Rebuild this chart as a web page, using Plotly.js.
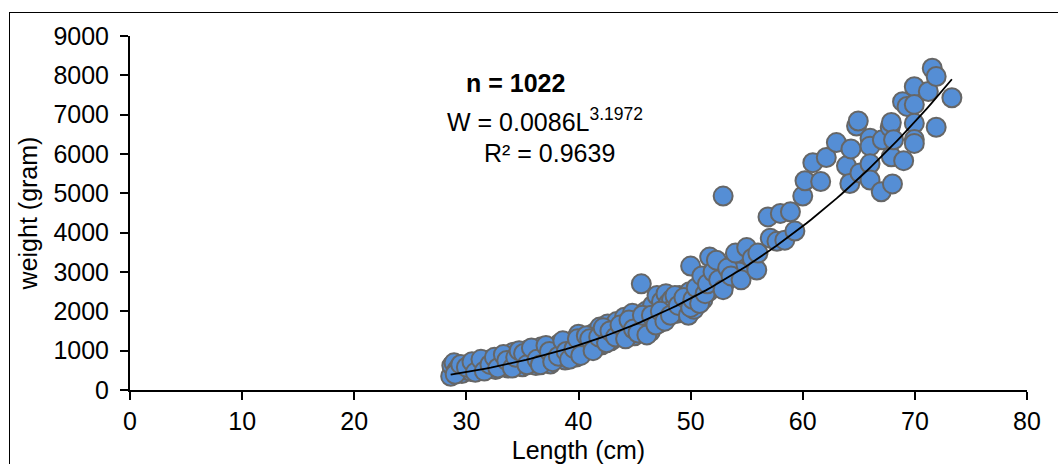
<!DOCTYPE html>
<html>
<head>
<meta charset="utf-8">
<script src="https://cdn.plot.ly/plotly-3.0.1.min.js"></script>
<style>
  html, body { margin: 0; padding: 0; background: #fff; }
  #wrap { position: relative; width: 1058px; height: 464px; overflow: hidden; }
  #chart { width: 1058px; height: 464px; }
  #frame { position: absolute; left: 9px; top: 12px; width: 2000px; height: 1000px;
           border-left: 1.5px solid #000; border-top: 1.5px solid #000; pointer-events: none; }
</style>
</head>
<body>
<div id="wrap">
  <div id="chart"></div>
  <div id="frame"></div>
</div>
<script>
// Length (cm) of each fish
const lengthCm = [
  28.6, 28.7, 28.9, 29.1, 29.3, 29.6, 29.9, 30.2, 30.4, 30.7,
  31.0, 31.2, 31.5, 31.8, 32.0, 32.3, 32.6, 32.9, 33.0, 33.1,
  33.4, 33.7, 34.0, 34.2, 34.5, 34.8, 35.0, 35.2, 35.5, 35.7,
  36.0, 36.0, 36.2, 36.5, 36.7, 37.0, 37.2, 37.5, 37.8, 38.0,
  38.0, 38.3, 38.5, 38.8, 39.0, 39.3, 39.5, 39.8, 40.0, 40.1,
  40.4, 40.5, 40.6, 40.9, 41.1, 41.4, 41.6, 41.9, 42.0, 42.1,
  42.4, 42.6, 42.9, 43.1, 43.4, 43.6, 43.9, 44.0, 44.1, 44.4,
  44.6, 44.8, 45.0, 45.0, 45.2, 45.5, 45.6, 45.8, 46.0, 46.0,
  46.2, 46.4, 46.6, 46.8, 47.0, 47.0, 47.2, 47.4, 47.6, 47.8,
  48.0, 48.0, 48.3, 48.5, 48.8, 49.0, 49.0, 49.3, 49.6, 49.9,
  29.0, 29.5, 30.0, 30.5, 30.8, 31.3, 31.6, 32.1, 32.5, 32.8,
  33.3, 33.6, 34.1, 34.4, 34.7, 35.1, 35.4, 35.8, 36.3, 36.6,
  37.1, 37.4, 37.7, 38.2, 38.6, 38.9, 39.2, 39.6, 39.9, 40.2,
  40.7, 41.0, 41.3, 41.8, 42.2, 42.5, 42.8, 43.3, 43.7, 44.2,
  44.5, 44.9, 45.3, 45.7, 46.1, 46.5, 46.9, 47.3, 47.7, 48.2,
  48.6, 48.9, 49.4, 49.8, 50.3, 50.6, 51.1, 51.6, 52.2, 53.0,
  53.8, 54.3,
  50.0, 50.0, 50.2, 50.5, 50.8, 51.0, 51.3, 51.5, 51.7, 52.0,
  52.3, 52.5, 52.9, 52.9, 53.3, 53.6, 54.0, 54.5, 55.0, 55.5,
  55.9, 56.0, 56.9, 57.1, 57.7, 58.0, 58.4, 58.9, 59.3, 60.0,
  60.2, 60.9, 61.6, 62.1, 63.0, 63.9, 64.2, 64.3, 64.8, 64.95,
  65.1, 66.0, 66.0, 66.0, 66.0, 67.0, 67.1, 67.8, 67.9, 67.9,
  68.0, 68.1, 68.9, 69.0, 69.3, 69.95, 69.95, 69.95, 69.95, 69.95,
  71.2, 71.55, 71.9, 71.9, 73.3
];
// Weight (gram) of each fish
const weightGram = [
  350, 620, 690, 480, 560, 420, 510, 640, 470, 560,
  700, 500, 610, 540, 760, 590, 520, 680, 580, 820,
  610, 560, 720, 960, 650, 880, 590, 760, 1020, 680,
  850, 700, 620, 950, 1100, 740, 880, 660, 1010, 800,
  1000, 1180, 900, 760, 1080, 950, 1250, 840, 1420, 1100,
  980, 1200, 1300, 1180, 1050, 1450, 1260, 1600, 1450, 1150,
  1380, 1680, 1250, 1520, 1740, 1350, 1600, 1600, 1850, 1450,
  1700, 1950, 1380, 1750, 1620, 1800, 2700, 1550, 2000, 1700,
  1760, 1480, 2150, 1900, 2400, 1800, 1700, 2250, 2050, 2450,
  1950, 2200, 2300, 2100, 1950, 2400, 2000, 2200, 2050, 2500,
  400, 650, 580, 720, 450, 780, 480, 650, 830, 560,
  900, 750, 560, 830, 1000, 930, 640, 1070, 780, 640,
  1130, 980, 720, 860, 1250, 980, 780, 1050, 1300, 880,
  1380, 1300, 1000, 1350, 1580, 1200, 1500, 1350, 1650, 1300,
  1780, 1550, 1450, 1900, 1400, 1900, 1650, 2000, 1750, 1900,
  2400, 2150, 2350, 1900, 2050, 2400, 2300, 2500, 2700, 2700,
  3200, 3000,
  3150, 2100, 2300, 2600, 2200, 2900, 2450, 2700, 3380, 3000,
  3300, 2800, 2550, 4930, 3100, 2900, 3480, 2800, 3620, 3350,
  3050, 3480, 4400, 3860, 3780, 4490, 3810, 4530, 4040, 4930,
  5320, 5780, 5300, 5910, 6290, 5700, 5250, 6130, 6710, 6840,
  5520, 6400, 6200, 5750, 5340, 5040, 6360, 6680, 6800, 5930,
  5240, 6360, 7330, 5830, 7210, 7710, 7260, 6780, 6370, 6270,
  7590, 8180, 7970, 6680, 7430
];
// Power fit shown on the chart: W = a * L^b
const fitA = 0.0086;
const fitB = 3.1972;
const sampleSize = 1022;
const rSquared = 0.9639;
const xTicks = [0, 10, 20, 30, 40, 50, 60, 70, 80];
const yTicks = [0, 1000, 2000, 3000, 4000, 5000, 6000, 7000, 8000, 9000];

const lMin = Math.min(...lengthCm), lMax = Math.max(...lengthCm);
const fitX = [], fitY = [];
for (let i = 0; i <= 100; i++) {
  const l = lMin + (lMax - lMin) * i / 100;
  fitX.push(l);
  fitY.push(fitA * Math.pow(l, fitB));
}

const font = 'Liberation Sans, Arial, sans-serif';

const data = [
  {
    type: 'scatter', mode: 'markers', x: lengthCm, y: weightGram,
    marker: { size: 19, color: '#558ed5', line: { color: '#666666', width: 2 } },
    hoverinfo: 'x+y', showlegend: false
  },
  {
    type: 'scatter', mode: 'lines', x: fitX, y: fitY,
    line: { color: '#000', width: 1.8 }, hoverinfo: 'skip', showlegend: false
  }
];

const layout = {
  width: 1058, height: 464,
  margin: { l: 130, r: 31, t: 36, b: 74 },
  paper_bgcolor: '#fff', plot_bgcolor: '#fff',
  font: { family: font, color: '#000', size: 25 },
  showlegend: false,
  xaxis: {
    range: [0, 80], tickvals: xTicks, ticktext: xTicks.map(String),
    showgrid: false, zeroline: false, showline: true, linecolor: '#000', linewidth: 2,
    ticks: 'outside', ticklen: 8, tickwidth: 2, tickcolor: '#000',
    tickfont: { family: font, size: 25, color: '#000' },
    title: { text: 'Length (cm)', font: { family: font, size: 25, color: '#000' }, standoff: 8 },
    fixedrange: true
  },
  yaxis: {
    range: [0, 9000], tickvals: yTicks, ticktext: yTicks.map(String),
    showgrid: false, zeroline: false, showline: true, linecolor: '#000', linewidth: 2,
    ticks: 'outside', ticklen: 8, tickwidth: 2, tickcolor: '#000',
    tickfont: { family: font, size: 25, color: '#000' },
    ticklabelstandoff: 6,
    title: { text: 'weight (gram)', font: { family: font, size: 25, color: '#000' }, standoff: 9 },
    fixedrange: true
  },
  annotations: [
    { xref: 'paper', yref: 'paper', x: (515 - 130) / 897, y: (390 - 83) / 354,
      text: '<b>n = ' + sampleSize + '</b>', showarrow: false,
      font: { family: font, size: 25, color: '#000' }, xanchor: 'center', yanchor: 'middle' },
    { xref: 'paper', yref: 'paper', x: (545 - 130) / 897, y: (390 - 120) / 354,
      text: 'W = ' + fitA + 'L<sup>' + fitB + '</sup>', showarrow: false,
      font: { family: font, size: 25, color: '#000' }, xanchor: 'center', yanchor: 'middle' },
    { xref: 'paper', yref: 'paper', x: (549 - 130) / 897, y: (390 - 153) / 354,
      text: 'R² = ' + rSquared, showarrow: false,
      font: { family: font, size: 25, color: '#000' }, xanchor: 'center', yanchor: 'middle' }
  ]
};

Plotly.newPlot('chart', data, layout, { staticPlot: true, displayModeBar: false });
</script>
</body>
</html>
